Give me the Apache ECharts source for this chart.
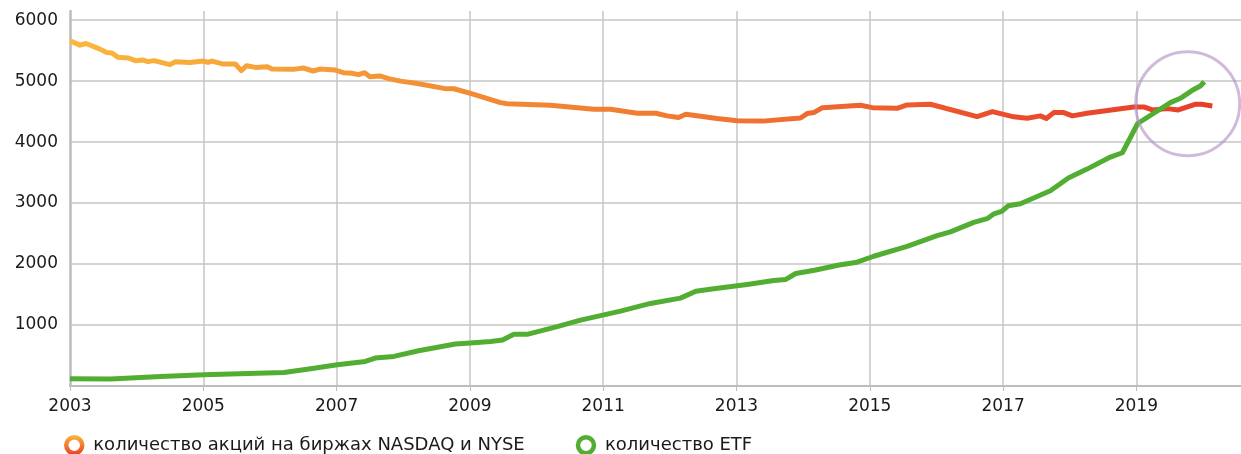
<!DOCTYPE html>
<html>
<head>
<meta charset="utf-8">
<script src="https://cdn.jsdelivr.net/npm/echarts@6/dist/echarts.min.js"></script>
<style>
    html, body { margin: 0; padding: 0; background: #fff; }
    #chart { width: 1241px; height: 454px; }
</style>
</head>
<body>
<div id="chart"></div>
<script>
var stockYears = [2003.0, 2003.15, 2003.24, 2003.45, 2003.55, 2003.63, 2003.72, 2003.87, 2003.98, 2004.1,
    2004.17, 2004.26, 2004.5, 2004.58, 2004.8, 2005.0, 2005.07, 2005.13, 2005.3, 2005.48,
    2005.57, 2005.65, 2005.78, 2005.96, 2006.03, 2006.35, 2006.5, 2006.65, 2006.75, 2006.98,
    2007.1, 2007.23, 2007.33, 2007.42, 2007.5, 2007.65, 2007.78, 2007.96, 2008.21, 2008.61,
    2008.76, 2009.01, 2009.46, 2009.56, 2010.21, 2010.86, 2011.11, 2011.51, 2011.79, 2011.96,
    2012.13, 2012.24, 2012.71, 2013.01, 2013.39, 2013.96, 2014.06, 2014.16, 2014.29, 2014.86,
    2015.04, 2015.41, 2015.56, 2015.91, 2016.61, 2016.84, 2017.16, 2017.36, 2017.56, 2017.65,
    2017.76, 2017.91, 2018.04, 2018.26, 2018.96, 2019.11, 2019.24, 2019.46, 2019.63, 2019.88,
    2019.98, 2020.14];
var stockCounts = [5660, 5590, 5617, 5525, 5470, 5460, 5390, 5380, 5336, 5346,
    5320, 5336, 5270, 5318, 5307, 5330, 5307, 5328, 5280, 5280,
    5172, 5253, 5225, 5236, 5198, 5193, 5215, 5166, 5198, 5182,
    5139, 5128, 5106, 5139, 5073, 5085, 5041, 5000, 4962, 4881,
    4875, 4799, 4647, 4630, 4604, 4539, 4539, 4474, 4474, 4430,
    4402, 4458, 4386, 4349, 4344, 4395, 4468, 4484, 4565, 4604,
    4565, 4555, 4609, 4620, 4419, 4500, 4414, 4392, 4430, 4386,
    4484, 4484, 4430, 4474, 4576, 4576, 4528, 4549, 4528, 4620,
    4620, 4593];

var etfYears = [2003.0, 2003.61, 2004.36, 2005.01, 2006.21, 2006.61, 2007.01, 2007.43, 2007.58, 2007.86,
    2008.23, 2008.78, 2009.01, 2009.31, 2009.49, 2009.66, 2009.86, 2010.31, 2010.66, 2011.26,
    2011.71, 2012.16, 2012.39, 2012.66, 2013.16, 2013.56, 2013.74, 2013.89, 2014.17, 2014.54,
    2014.81, 2015.06, 2015.56, 2016.01, 2016.21, 2016.56, 2016.76, 2016.86, 2016.98, 2017.08,
    2017.26, 2017.71, 2017.98, 2018.26, 2018.61, 2018.79, 2019.02, 2019.51, 2019.66, 2019.84,
    2019.96, 2020.02];
var etfCounts = [120, 115, 157, 185, 223, 284, 349, 403, 459, 485,
    579, 689, 705, 731, 754, 847, 847, 973, 1081, 1228,
    1354, 1441, 1555, 1595, 1665, 1730, 1747, 1845, 1899, 1985,
    2030, 2128, 2291, 2466, 2527, 2684, 2744, 2821, 2864, 2957,
    2990, 3203, 3410, 3557, 3754, 3825, 4305, 4647, 4718, 4849,
    4919, 4989];

var seriesNames = ['количество акций на биржах NASDAQ и NYSE', 'количество ETF'];
// highlighted crossing point (circle annotation)
var crossPoint = [2019.77, 4630];

function pairs(xs, ys) {
    var out = [];
    for (var i = 0; i < xs.length; i++) {
        out.push([xs[i], ys[i]]);
    }
    return out;
}

var font = '"DejaVu Sans", sans-serif';
var gridColor = '#c6c6c6';

var stockGradient = new echarts.graphic.LinearGradient(0, 0, 1, 0, [
    { offset: 0, color: '#fbb83d' },
    { offset: 0.35, color: '#f28b35' },
    { offset: 0.6, color: '#ef7331' },
    { offset: 0.8, color: '#eb4f2c' },
    { offset: 1, color: '#e63f29' }
]);
var legendGradient = new echarts.graphic.LinearGradient(0, 0, 0, 1, [
    { offset: 0, color: '#fbb83d' },
    { offset: 1, color: '#e63f29' }
]);

var mycharts = echarts.init(document.getElementById('chart'));
mycharts.setOption({
    animation: false,
    grid: {
        left: 70,
        right: 0,
        top: 11,
        bottom: 68
    },
    legend: {
        left: 64,
        top: 435,
        padding: 0,
        itemWidth: 16,
        itemHeight: 16,
        itemGap: 51,
        icon: 'circle',
        textStyle: {
            fontFamily: font,
            fontSize: 18,
            color: '#1a1a1a',
            padding: [0, 0, 0, 6]
        },
        data: [
            {
                name: seriesNames[0],
                itemStyle: { color: '#fff', borderColor: legendGradient, borderWidth: 4.5 }
            },
            {
                name: seriesNames[1],
                itemStyle: { color: '#fff', borderColor: '#52ae32', borderWidth: 4.5 }
            }
        ]
    },
    xAxis: {
        type: 'value',
        min: 2003,
        max: 2020.57,
        interval: 2,
        axisLine: {
            show: true,
            onZero: false,
            lineStyle: { color: '#bdbdbd', width: 2 }
        },
        axisTick: {
            show: true,
            length: 5,
            lineStyle: { color: '#bdbdbd', width: 1 }
        },
        axisLabel: {
            showMaxLabel: false,
            margin: 12,
            fontFamily: font,
            fontSize: 17,
            color: '#1a1a1a',
            formatter: function (v) { return String(v); }
        },
        splitLine: {
            show: true,
            showMinLine: false,
            showMaxLine: false,
            lineStyle: { color: gridColor, width: 1.5 }
        }
    },
    yAxis: {
        type: 'value',
        min: 0,
        max: 6150,
        interval: 1000,
        axisLine: {
            show: true,
            lineStyle: { color: '#bdbdbd', width: 2.5 }
        },
        axisTick: { show: false },
        axisLabel: {
            showMinLabel: false,
            showMaxLabel: false,
            margin: 12,
            fontFamily: font,
            fontSize: 17,
            color: '#1a1a1a',
            formatter: function (v) { return String(v); }
        },
        splitLine: {
            show: true,
            showMinLine: false,
            showMaxLine: false,
            lineStyle: { color: gridColor, width: 1.5 }
        }
    },
    series: [
        {
            name: seriesNames[0],
            type: 'line',
            showSymbol: false,
            symbol: 'none',
            lineStyle: { width: 5, color: stockGradient, join: 'round' },
            itemStyle: { color: '#f28b35' },
            data: pairs(stockYears, stockCounts)
        },
        {
            name: seriesNames[1],
            type: 'line',
            showSymbol: false,
            symbol: 'none',
            lineStyle: { width: 5, color: '#52ae32', join: 'round' },
            itemStyle: { color: '#52ae32' },
            data: pairs(etfYears, etfCounts),
            markPoint: {
                silent: true,
                symbol: 'circle',
                symbolSize: 104,
                label: { show: false },
                itemStyle: {
                    color: 'rgba(0,0,0,0)',
                    borderColor: 'rgba(176,140,196,0.6)',
                    borderWidth: 3
                },
                data: [{ coord: crossPoint }]
            }
        }
    ]
});
</script>
</body>
</html>
